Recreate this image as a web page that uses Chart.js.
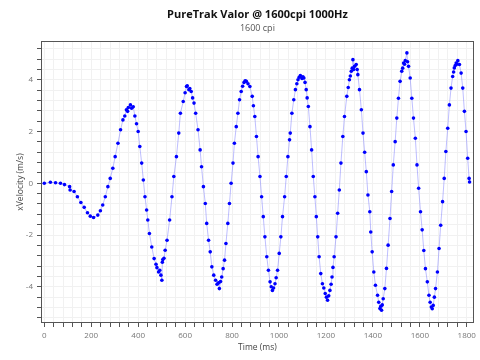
<!DOCTYPE html>
<html>
<head>
<meta charset="utf-8">
<script src="https://cdn.jsdelivr.net/npm/chart.js@4/dist/chart.umd.min.js"></script>
<style>
  body { margin: 0; background: #fff; }
  canvas { display: block; }
</style>
</head>
<body>
<canvas id="velocityChart" width="480" height="360"></canvas>
<script>
// time stamps (ms)
var timeMs = [
  0, 26, 48, 69, 86, 108, 110, 127, 141, 156, 170, 184, 196, 210, 228, 239, 249, 260, 271, 281,
  292, 302, 314, 325, 335, 343, 350, 355, 358, 367, 372, 379, 386, 393, 400, 407, 415, 422, 429, 436,
  441, 448, 458, 468, 476, 480, 487, 492, 497, 501, 503, 505, 510, 515, 523, 534, 544, 552, 563, 573,
  580, 592, 600, 606, 609, 616, 620, 626, 632, 638, 645, 655, 664, 670, 678, 686, 692, 700, 707, 714,
  722, 730, 736, 742, 746, 751, 756, 762, 768, 774, 782, 789, 796, 804, 810, 818, 825, 832, 839, 845,
  851, 856, 861, 868, 876, 886, 891, 897, 904, 911, 919, 926, 933, 940, 948, 955, 962, 967, 972, 977,
  983, 988, 994, 1001, 1008, 1015, 1024, 1031, 1038, 1045, 1048, 1055, 1063, 1070, 1076, 1081, 1086, 1091, 1098, 1102,
  1106, 1111, 1116, 1120, 1125, 1132, 1139, 1146, 1153, 1159, 1165, 1171, 1178, 1185, 1191, 1197, 1202, 1207, 1212, 1217,
  1222, 1226, 1230, 1235, 1243, 1250, 1257, 1264, 1272, 1279, 1289, 1295, 1300, 1304, 1308, 1312, 1315, 1318, 1322, 1329,
  1333, 1336, 1343, 1351, 1358, 1365, 1372, 1379, 1387, 1391, 1397, 1404, 1411, 1420, 1425, 1430, 1434, 1437, 1440, 1444,
  1451, 1458, 1465, 1473, 1480, 1487, 1495, 1502, 1509, 1516, 1523, 1527, 1531, 1535, 1538, 1545, 1548, 1552, 1559, 1566,
  1573, 1581, 1588, 1595, 1603, 1610, 1617, 1624, 1632, 1639, 1644, 1649, 1653, 1657, 1662, 1667, 1675, 1682, 1689, 1697,
  1704, 1711, 1719, 1726, 1733, 1740, 1744, 1747, 1751, 1755, 1758, 1762, 1769, 1776, 1783, 1790, 1797, 1804, 1810, 1812
];

// xVelocity (m/s)
var xVelocity = [
  0, 0.04, 0.02, 0, -0.05, -0.13, -0.26, -0.32, -0.52, -0.74, -0.93, -1.14, -1.27, -1.32, -1.23, -1.06, -0.84, -0.52, -0.13, 0.19,
  0.58, 1.03, 1.55, 2.07, 2.45, 2.6, 2.84, 2.78, 2.93, 3.03, 2.9, 2.96, 2.6, 2.3, 2.0, 1.42, 0.78, 0.13, -0.52, -1.03,
  -1.42, -1.94, -2.46, -2.91, -3.13, -3.26, -3.43, -3.36, -3.55, -3.75, -3.05, -2.95, -2.9, -2.59, -2.2, -1.42, -0.52, 0.26, 1.03, 1.94,
  2.71, 3.16, 3.5, 3.74, 3.77, 3.62, 3.66, 3.55, 3.3, 3.1, 2.71, 2.07, 1.29, 0.64, -0.13, -0.78, -1.55, -2.2, -2.65, -3.23,
  -3.55, -3.75, -3.9, -3.85, -4.07, -3.8, -3.62, -3.3, -2.97, -2.33, -1.55, -0.78, 0, 0.78, 1.55, 2.19, 2.71, 3.23, 3.55, 3.75,
  3.9, 3.96, 3.94, 3.85, 3.74, 3.36, 3.0, 2.58, 1.81, 1.03, 0.26, -0.52, -1.29, -2.07, -2.84, -3.36, -3.81, -4.0, -4.14, -4.05,
  -3.88, -3.65, -3.36, -2.71, -2.07, -1.29, -0.52, 0.26, 1.03, 1.68, 1.94, 2.71, 3.23, 3.62, 3.85, 4.0, 4.1, 4.16, 4.05, 4.12,
  4.07, 3.9, 3.62, 3.3, 2.97, 2.19, 1.29, 0.26, -0.52, -1.29, -2.07, -2.84, -3.49, -3.88, -4.05, -4.26, -4.4, -4.52, -4.35, -4.14,
  -3.9, -3.62, -3.25, -2.84, -2.07, -1.16, -0.26, 0.78, 1.81, 2.58, 3.36, 3.7, 4.0, 4.15, 4.33, 4.45, 4.78, 4.4, 4.52, 4.59,
  4.4, 4.2, 3.62, 2.84, 1.94, 1.2, 0.45, -0.45, -1.1, -1.88, -2.65, -3.43, -3.94, -4.33, -4.6, -4.84, -4.75, -4.91, -4.7, -4.46,
  -4.07, -3.29, -2.39, -1.36, -0.32, 0.71, 1.61, 2.52, 3.29, 3.94, 4.33, 4.45, 4.65, 4.6, 4.74, 5.04, 4.7, 4.52, 4.07, 3.29,
  2.52, 1.74, 0.71, -0.19, -1.1, -1.8, -2.6, -3.3, -3.81, -4.33, -4.6, -4.78, -4.85, -4.72, -4.4, -4.07, -3.43, -2.52, -1.62, -0.71,
  0.19, 1.23, 2.13, 3.03, 3.68, 4.13, 4.3, 4.46, 4.55, 4.65, 4.6, 4.74, 4.59, 4.26, 3.68, 2.78, 2.0, 0.97, 0.19, 0.05
];

var points = timeMs.map(function (t, i) {
    return { x: t, y: xVelocity[i] };
});

// draws the dark frame round the plot area
var frame = {
    id: 'frame',
    afterDraw: function (chart) {
        var a = chart.chartArea;
        var c = chart.ctx;
        c.save();
        c.strokeStyle = '#555';
        c.lineWidth = 1;
        c.strokeRect(Math.round(a.left) + 0.5, Math.round(a.top) + 0.5,
                     Math.round(a.right - a.left) - 1, Math.round(a.bottom - a.top) - 1);
        c.restore();
    }
};

var ctx = document.getElementById('velocityChart').getContext('2d');

new Chart(ctx, {
    type: 'line',
    data: {
        datasets: [{
            label: '1600 cpi',
            data: points,
            borderColor: 'rgba(110,110,255,0.45)',
            borderWidth: 1,
            pointRadius: 1.8,
            pointBackgroundColor: '#0000ff',
            pointBorderWidth: 0,
            tension: 0
        }]
    },
    options: {
        responsive: false,
        animation: false,
        layout: { padding: 0 },
        plugins: {
            legend: { display: false },
            tooltip: { enabled: false },
            title: {
                display: true,
                fullSize: false,
                text: 'PureTrak Valor @ 1600cpi 1000Hz',
                color: '#111',
                font: { family: 'Open Sans', size: 11, weight: 'bold' },
                padding: { top: 8, bottom: 2 }
            },
            subtitle: {
                display: true,
                fullSize: false,
                text: '1600 cpi',
                color: '#555',
                font: { family: 'Open Sans', size: 9 },
                padding: { top: 0, bottom: 7 }
            }
        },
        scales: {
            x: {
                type: 'linear',
                min: -14,
                max: 1830,
                afterFit: function (scale) { scale.height = 37; },
                ticks: {
                    stepSize: 40,
                    includeBounds: false,
                    autoSkip: false,
                    maxRotation: 0,
                    padding: 4,
                    color: '#777',
                    font: { family: 'Open Sans', size: 8 },
                    callback: function (v) { return v % 200 === 0 ? v : ''; }
                },
                grid: { color: '#f1f1f1', tickColor: '#555', tickLength: 4 },
                border: { display: false },
                title: {
                    display: true,
                    text: 'Time (ms)',
                    color: '#444',
                    font: { family: 'Open Sans', size: 8.5 },
                    padding: { top: 0, bottom: 7 }
                }
            },
            y: {
                min: -5.4,
                max: 5.5,
                afterFit: function (scale) { scale.width = 41; },
                ticks: {
                    stepSize: 0.4,
                    includeBounds: false,
                    autoSkip: false,
                    padding: 4,
                    color: '#777',
                    font: { family: 'Open Sans', size: 8 },
                    callback: function (v) {
                        var r = Math.round(v * 10);
                        return r % 20 === 0 ? String(r / 10) : '';
                    }
                },
                grid: { color: '#f1f1f1', tickColor: '#555', tickLength: 4 },
                border: { display: false },
                title: {
                    display: true,
                    text: 'xVelocity (m/s)',
                    color: '#444',
                    font: { family: 'Open Sans', size: 8.5 },
                    padding: { top: 15, bottom: 0 }
                }
            }
        }
    },
    plugins: [frame]
});
</script>
</body>
</html>
